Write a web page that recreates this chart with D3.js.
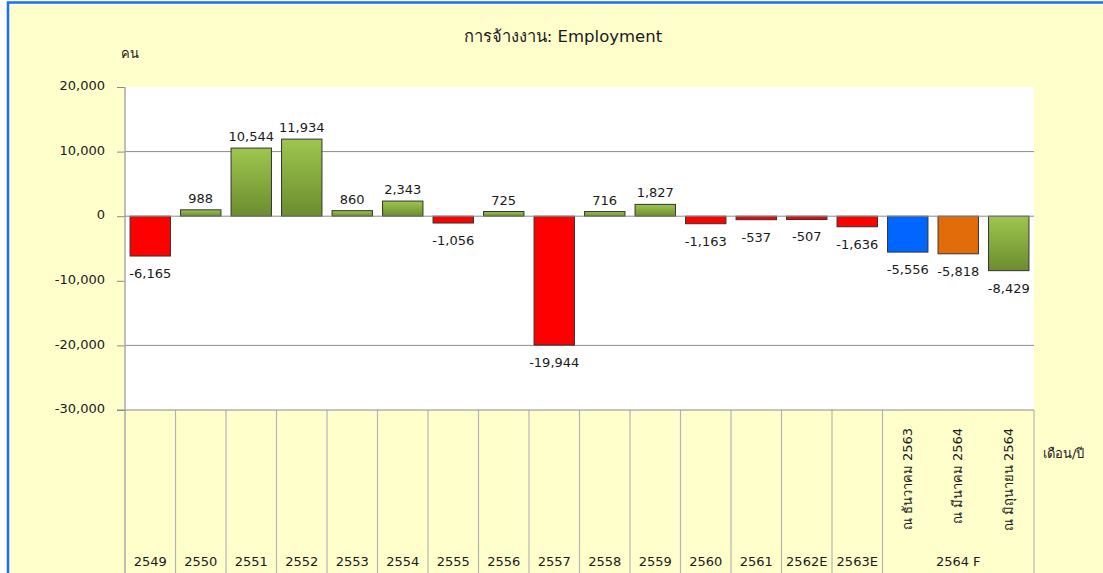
<!DOCTYPE html>
<html>
<head>
<meta charset="utf-8">
<script src="https://cdn.jsdelivr.net/npm/d3@7"></script>
<style>
  html, body { margin: 0; padding: 0; background: #ffffff; }
  svg { display: block; }
  text { font-family: Tahoma, "DejaVu Sans", "Noto Sans", sans-serif; fill: #1a1a1a; }
</style>
</head>
<body>
<script>
// ---- data ----
const categories = ["2549","2550","2551","2552","2553","2554","2555","2556","2557","2558","2559","2560","2561","2562E","2563E",
                    "ณ ธันวาคม 2563","ณ มีนาคม 2564","ณ มิถุนายน 2564"];
const values = [-6165, 988, 10544, 11934, 860, 2343, -1056, 725, -19944, 716, 1827, -1163, -537, -507, -1636, -5556, -5818, -8429];
const forecastCategories = ["ณ ธันวาคม 2563","ณ มีนาคม 2564","ณ มิถุนายน 2564"];
const forecastGroupLabel = "2564 F";
const yTicks = [20000, 10000, 0, -10000, -20000, -30000];
const gridValues = [10000, -20000];
const title = "การจ้างงาน: Employment";
const yUnit = "คน";
const xUnit = "เดือน/ปี";

// ---- layout ----
const W = 1103, H = 573;
const plot = { left: 125, right: 1034, top: 87, bottom: 410 };
const fmt = d => d3.format(",")(d).replace("\u2212", "-");

const svg = d3.select("body").append("svg").attr("width", W).attr("height", H);
const defs = svg.append("defs");
const gGreen = defs.append("linearGradient").attr("id", "green").attr("x1", 0).attr("y1", 0).attr("x2", 0).attr("y2", 1);
gGreen.append("stop").attr("offset", "0%").attr("stop-color", "#9ec64e");
gGreen.append("stop").attr("offset", "100%").attr("stop-color", "#6c8c2f");

// background frame
svg.append("rect").attr("x", 0).attr("y", 0).attr("width", W).attr("height", H).attr("fill", "#ffffff");
svg.append("rect").attr("x", 8).attr("y", 2.5).attr("width", W + 10).attr("height", H + 10)
  .attr("fill", "#ffffcc").attr("stroke", "#1a6dff").attr("stroke-width", 2.5);

// plot area
svg.append("rect").attr("x", plot.left).attr("y", plot.top)
  .attr("width", plot.right - plot.left).attr("height", plot.bottom - plot.top).attr("fill", "#ffffff");

const x = d3.scaleBand().domain(categories).range([plot.left, plot.right]).paddingInner(0.2).paddingOuter(0.1);
const y = d3.scaleLinear().domain([-30000, 20000]).range([plot.bottom, plot.top]);

// gridlines
svg.append("g").selectAll("line").data(gridValues).join("line")
  .attr("x1", plot.left).attr("x2", plot.right)
  .attr("y1", d => y(d)).attr("y2", d => y(d))
  .attr("stroke", "#8c8c8c").attr("stroke-width", 1);

// y axis
const yAxis = d3.axisLeft(y).tickValues(yTicks).tickSize(8).tickPadding(12).tickFormat(fmt);
const ya = svg.append("g").attr("transform", `translate(${plot.left},0)`).call(yAxis);
ya.select(".domain").remove();
ya.selectAll(".tick line").attr("stroke", "#8c8c8c");
ya.selectAll(".tick text").attr("font-size", 13).attr("dy", "0.2em")
  .style("font-family", 'Tahoma, "DejaVu Sans", sans-serif').attr("fill", "#1a1a1a");

// left axis line (extends into category table)
svg.append("line").attr("x1", plot.left).attr("x2", plot.left).attr("y1", plot.top).attr("y2", H)
  .attr("stroke", "#a8a8a8").attr("stroke-width", 1.5);

// category separators
const step = x.step();
const isForecast = c => forecastCategories.includes(c);
const sepX = [];
categories.forEach((c, i) => {
  if (i > 0 && !(isForecast(c) && isForecast(categories[i - 1]))) sepX.push(plot.left + step * i);
});
sepX.push(plot.right);
svg.append("g").selectAll("line").data(sepX).join("line")
  .attr("x1", d => d).attr("x2", d => d).attr("y1", plot.bottom).attr("y2", H)
  .attr("stroke", "#b4b4b4").attr("stroke-width", 1.2);

// bars
const fcColors = ["#0066ff", "#e36c0a", "url(#green)"];
function barColor(c, v) {
  const fi = forecastCategories.indexOf(c);
  if (fi >= 0) return fcColors[fi];
  return v < 0 ? "#ff0000" : "url(#green)";
}
const data = categories.map((c, i) => ({ c, v: values[i] }));
svg.append("g").selectAll("rect").data(data).join("rect")
  .attr("x", d => x(d.c)).attr("width", x.bandwidth())
  .attr("y", d => y(Math.max(0, d.v)))
  .attr("height", d => Math.abs(y(d.v) - y(0)))
  .attr("fill", d => barColor(d.c, d.v))
  .attr("stroke", "#333333").attr("stroke-width", 1);

// zero line
svg.append("line").attr("x1", plot.left).attr("x2", plot.right).attr("y1", y(0)).attr("y2", y(0))
  .attr("stroke", "#8c8c8c").attr("stroke-width", 1);
// bottom line
svg.append("line").attr("x1", plot.left - 8).attr("x2", plot.right).attr("y1", plot.bottom).attr("y2", plot.bottom)
  .attr("stroke", "#8c8c8c").attr("stroke-width", 1.2);

// value labels
svg.append("g").selectAll("text").data(data).join("text")
  .attr("x", d => x(d.c) + x.bandwidth() / 2)
  .attr("y", d => d.v >= 0 ? y(d.v) - 7 : y(d.v) + 22)
  .attr("text-anchor", "middle").attr("font-size", 13)
  .text(d => fmt(d.v));

// category labels
svg.append("g").selectAll("text").data(categories.filter(c => !isForecast(c))).join("text")
  .attr("x", d => x(d) + x.bandwidth() / 2).attr("y", 566)
  .attr("text-anchor", "middle").attr("font-size", 13).text(d => d);

svg.append("g").selectAll("text").data(forecastCategories).join("text")
  .attr("transform", d => `translate(${x(d) + x.bandwidth() / 2 + 4},428) rotate(-90)`)
  .attr("text-anchor", "end").attr("font-size", 13).text(d => d);

const g0 = x(forecastCategories[0]) - step * x.paddingInner() / 2;
svg.append("text").attr("x", (g0 + plot.right) / 2).attr("y", 566)
  .attr("text-anchor", "middle").attr("font-size", 13).text(forecastGroupLabel);

// titles/units
svg.append("text").attr("x", 563).attr("y", 42).attr("text-anchor", "middle").attr("font-size", 16.5).text(title);
svg.append("text").attr("x", 121).attr("y", 58).attr("font-size", 13).text(yUnit);
svg.append("text").attr("x", 1043).attr("y", 458).attr("font-size", 13).text(xUnit);
</script>
</body>
</html>
